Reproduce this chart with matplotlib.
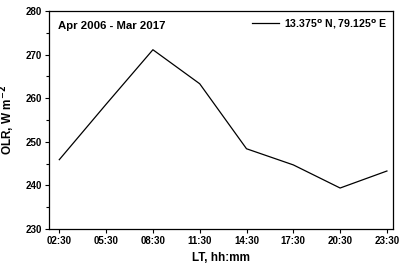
import matplotlib
matplotlib.use("Agg")
import matplotlib.pyplot as plt
from matplotlib.ticker import MultipleLocator

times = ["02:30", "05:30", "08:30", "11:30", "14:30", "17:30", "20:30", "23:30"]
olr = [245.9, 258.6, 271.1, 263.3, 248.4, 244.7, 239.4, 243.3]

plt.rcParams['font.family'] = ['Liberation Sans', 'DejaVu Sans']
plt.rcParams['font.weight'] = 'bold'

fig = plt.figure(figsize=(4, 2.66), dpi=100)
ax = fig.add_axes([0.1225, 0.139, 0.86, 0.82])
x = list(range(len(times)))
ax.plot(x, olr, color='black', lw=0.9, label="13.375$^{\\mathrm{o}}$ N, 79.125$^{\\mathrm{o}}$ E")
ax.set_xlim(-0.22, 7.13)
ax.set_ylim(230, 280)
ax.set_xticks(x)
ax.set_xticklabels(times)
ax.yaxis.set_major_locator(MultipleLocator(10))
ax.yaxis.set_minor_locator(MultipleLocator(5))
ax.tick_params(labelsize=7, length=3, width=0.8, pad=2)
ax.tick_params(which='minor', length=2, width=0.8)
for s in ax.spines.values():
    s.set_linewidth(0.9)
ax.set_xlabel("LT, hh:mm", fontsize=8.5, fontweight='bold', labelpad=4)
ax.set_ylabel("OLR, W m$^{\\mathbf{-2}}$", fontsize=8.5, fontweight='bold', labelpad=6)
ax.text(0.025, 0.93, "Apr 2006 - Mar 2017", transform=ax.transAxes, fontsize=8.2,
        fontweight='bold', va='center', ha='left')
ax.legend(loc='upper right', frameon=False, handlelength=2.6,
          borderaxespad=0.2, handletextpad=0.4, prop={'weight': 'bold', 'size': 7.6})
plt.savefig("out.png", dpi=100)
